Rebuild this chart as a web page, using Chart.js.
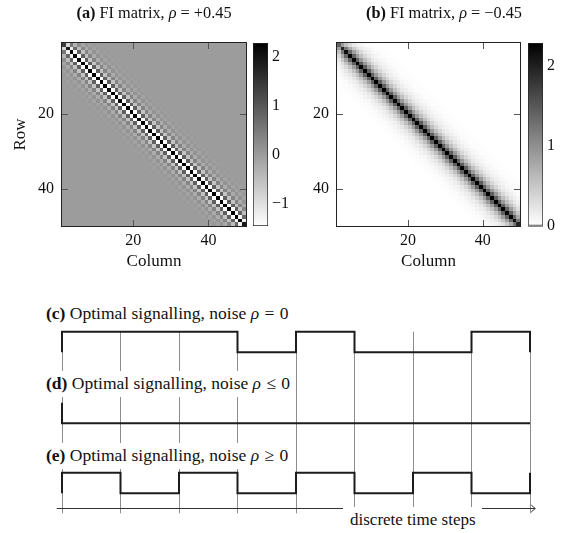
<!DOCTYPE html>
<html>
<head>
<meta charset="utf-8">
<title>FI matrices and optimal signalling</title>
<script src="https://cdn.jsdelivr.net/npm/chart.js@4.4.1/dist/chart.umd.min.js"></script>
<style>
  html, body { margin: 0; padding: 0; background: #fff; }
  body { position: relative; width: 565px; height: 533px; overflow: hidden;
         font-family: "Liberation Serif", "DejaVu Serif", serif; color: #111; }
  canvas { position: absolute; }
  .cap { position: absolute; font-size: 17px; line-height: 20px; white-space: nowrap; }
  .top { font-size: 16.3px; }
  .sub { font-size: 17.5px; }
  .rel { padding: 0 1px; }
  .box { background: #fff; }
</style>
</head>
<body>
<canvas id="fiA" width="250" height="280" style="left:0;top:0"></canvas>
<canvas id="cbA" width="60" height="280" style="left:250px;top:0"></canvas>
<canvas id="fiB" width="245" height="280" style="left:280px;top:0"></canvas>
<canvas id="cbB" width="40" height="280" style="left:525px;top:0"></canvas>
<canvas id="signals" width="565" height="243" style="left:0;top:290px"></canvas>

<div class="cap top" style="left:154px;top:3px;transform:translateX(-50%)"><b>(a)</b> FI matrix, <i>ρ</i> = +0.45</div>
<div class="cap top" style="left:444px;top:3px;transform:translateX(-50%)"><b>(b)</b> FI matrix, <i>ρ</i> = −0.45</div>
<div class="cap sub box" style="left:44px;top:303px;padding:0 3px 0 2px"><b>(c)</b> Optimal signalling, noise <i>ρ</i> <span class="rel">=</span> 0</div>
<div class="cap sub box" style="left:44px;top:371px;padding:2px 3px 4px 2px"><b>(d)</b> Optimal signalling, noise <i>ρ</i> <span class="rel">≤</span> 0</div>
<div class="cap sub box" style="left:44px;top:443px;padding:2px 3px 4px 2px"><b>(e)</b> Optimal signalling, noise <i>ρ</i> <span class="rel">≥</span> 0</div>
<div class="cap box" style="left:343px;top:507px;padding:3px 6px 3px 7px">discrete time steps</div>

<script>
// ---- data ----
const matrixSize = 50;
const matrixTicks = [20, 40];

// FI entries by distance |row - col| from the diagonal
const fiDiagA = [2.29, -1.44, 0.90, -0.57, 0.36, -0.22, 0.14, -0.09, 0.05, -0.03, 0.02, -0.01];
const fiDiagB = [2.29, 1.44, 0.90, 0.57, 0.36, 0.22, 0.14, 0.09, 0.05, 0.03, 0.02, 0.01];
// entries fade out close to the matrix border (by distance to the border)
const edgeFactor = [0.61, 0.85, 0.94, 0.98, 0.99];

const cbRangeA = [-1.45, 2.29];
const cbRangeB = [0, 2.29];
const cbTicksA = [-1, 0, 1, 2];
const cbTicksB = [0, 1, 2];

const timeSteps = [0, 1, 2, 3, 4, 5, 6, 7, 8];
const signalC = [1, 1, 1, 0, 1, 0, 0, 1];
const signalD = [0, 0, 0, 0, 0, 0, 0, 0];
const signalE = [1, 0, 1, 0, 1, 0, 1, 0];
// level before the first step and after the last one
const signalEndsC = [0, 0];
const signalEndsD = [1, 0];
const signalEndsE = [0, 1];

// ---- layout / style ----
const FONT = "'Liberation Serif', 'DejaVu Serif', serif";
const INK = '#111';
const GRID = '#8c8c8c';
const rowOffset = [6.85, 3.4, 0];   // vertical place of (c), (d), (e)
const axisLevel = -0.73;

Chart.defaults.font.family = FONT;
Chart.defaults.color = INK;

function grayFor(v, min, max) {
  const t = Math.min(1, Math.max(0, (v - min) / (max - min)));
  const g = Math.round(255 * (1 - t));
  return `rgb(${g},${g},${g})`;
}

function buildCells(diag) {
  const cells = [];
  for (let r = 1; r < matrixSize; r++) {
    for (let c = 1; c < matrixSize; c++) {
      const lo = Math.min(r, c), hi = Math.max(r, c);
      const base = diag[hi - lo] ?? 0;
      const f = (edgeFactor[lo - 1] ?? 1) * (edgeFactor[matrixSize - hi] ?? 1);
      cells.push({ x: c, y: r, v: base * f });
    }
  }
  return cells;
}

// draws the matrix cells through the chart scales, plus frame and inward ticks
const matrixCells = {
  id: 'matrixCells',
  beforeDatasetsDraw(chart, args, opts) {
    const { ctx, scales: { x, y } } = chart;
    ctx.save();
    chart.data.datasets[0].data.forEach(c => {
      const x0 = Math.round(x.getPixelForValue(c.x));
      const x1 = Math.round(x.getPixelForValue(c.x + 1));
      const y0 = Math.round(y.getPixelForValue(c.y));
      const y1 = Math.round(y.getPixelForValue(c.y + 1));
      ctx.fillStyle = grayFor(c.v, opts.min, opts.max);
      ctx.fillRect(x0, Math.min(y0, y1), x1 - x0, Math.abs(y1 - y0));
    });
    ctx.restore();
  },
  afterDatasetsDraw(chart) {
    const { ctx, chartArea: a, scales: { x, y } } = chart;
    ctx.save();
    ctx.strokeStyle = '#555';
    ctx.lineWidth = 1;
    ctx.beginPath();
    matrixTicks.forEach(v => {
      const px = Math.round(x.getPixelForValue(v)) + 0.5;
      ctx.moveTo(px, a.bottom); ctx.lineTo(px, a.bottom - 6);
      ctx.moveTo(px, a.top); ctx.lineTo(px, a.top + 6);
      const py = Math.round(y.getPixelForValue(v)) + 0.5;
      ctx.moveTo(a.left, py); ctx.lineTo(a.left + 6, py);
      ctx.moveTo(a.right, py); ctx.lineTo(a.right - 6, py);
    });
    ctx.stroke();
    ctx.strokeStyle = '#222';
    ctx.strokeRect(a.left - 0.5, a.top - 0.5, a.right - a.left + 1, a.bottom - a.top + 1);
    ctx.restore();
  }
};

function heatmap(id, diag, range, yTitle, yWidth, padRight) {
  return new Chart(document.getElementById(id), {
    type: 'scatter',
    data: { datasets: [{ data: buildCells(diag), pointRadius: 0, showLine: false }] },
    options: {
      responsive: false, animation: false, events: [],
      layout: { padding: { top: 43, right: padRight, left: 0, bottom: 0 } },
      plugins: { legend: { display: false }, tooltip: { enabled: false },
                 matrixCells: { min: range[0], max: range[1] } },
      scales: {
        x: {
          type: 'linear', min: 1, max: matrixSize,
          afterBuildTicks: s => { s.ticks = matrixTicks.map(v => ({ value: v })); },
          afterFit: s => { s.height = 54; },
          grid: { display: false, drawTicks: false }, border: { display: false },
          ticks: { font: { size: 16 }, color: INK, padding: 5 },
          title: { display: true, text: 'Column', font: { size: 17 }, color: INK, padding: { top: 0, bottom: 8 } }
        },
        y: {
          type: 'linear', reverse: true, min: 1, max: matrixSize,
          afterBuildTicks: s => { s.ticks = matrixTicks.map(v => ({ value: v })); },
          afterFit: s => { s.width = yWidth; },
          grid: { display: false, drawTicks: false }, border: { display: false },
          ticks: { font: { size: 16 }, color: INK, padding: 8 },
          title: { display: !!yTitle, text: yTitle || '', font: { size: 17 }, color: INK, padding: { top: 10, bottom: 0 } }
        }
      }
    },
    plugins: [matrixCells]
  });
}

function colorbar(id, range, ticks, axisWidth) {
  return new Chart(document.getElementById(id), {
    type: 'bar',
    data: {
      labels: [''],
      datasets: [{
        data: [range],
        backgroundColor: c => {
          const ch = c.chart;
          if (!ch.chartArea) return '#888';
          const y = ch.scales.y;
          const g = ch.ctx.createLinearGradient(0, y.getPixelForValue(range[1]), 0, y.getPixelForValue(range[0]));
          g.addColorStop(0, '#000');
          g.addColorStop(1, '#fff');
          return g;
        },
        borderColor: '#222', borderWidth: 1, borderSkipped: false,
        barPercentage: 1, categoryPercentage: 1
      }]
    },
    options: {
      responsive: false, animation: false, events: [],
      layout: { padding: { top: 43, bottom: 54, left: 3, right: 0 } },
      plugins: { legend: { display: false }, tooltip: { enabled: false } },
      scales: {
        x: { display: false },
        y: {
          position: 'right', min: range[0], max: range[1], z: 1,
          afterBuildTicks: s => { s.ticks = ticks.map(v => ({ value: v })); },
          afterFit: s => { s.width = axisWidth; },
          grid: { color: GRID, drawTicks: false }, border: { display: false },
          ticks: { font: { size: 16 }, color: INK, padding: 4,
                   callback: v => (v < 0 ? '\u2212' + Math.abs(v) : String(v)) }
        }
      }
    }
  });
}

heatmap('fiA', fiDiagA, cbRangeA, 'Row', 62, 4);
colorbar('cbA', cbRangeA, cbTicksA, 42);
heatmap('fiB', fiDiagB, cbRangeB, '', 57, 5);
colorbar('cbB', cbRangeB, cbTicksB, 22);

// ---- signalling panels (c)-(e) ----
function stepDataset(signal, ends, offset) {
  const last = signal.length;
  const pts = [{ x: timeSteps[0], y: offset + ends[0] }];
  signal.forEach((v, i) => pts.push({ x: timeSteps[i], y: offset + v }));
  pts.push({ x: timeSteps[last], y: offset + signal[last - 1] });
  pts.push({ x: timeSteps[last], y: offset + ends[1] });
  return {
    data: pts, stepped: true, borderColor: '#1c1c1c', borderWidth: 2,
    pointRadius: 0, fill: false, clip: false, borderCapStyle: 'butt', borderJoinStyle: 'miter'
  };
}

const timeAxis = {
  id: 'timeAxis',
  afterDatasetsDraw(chart) {
    const { ctx, scales: { x, y } } = chart;
    const py = Math.round(y.getPixelForValue(axisLevel)) + 0.5;
    const x0 = x.getPixelForValue(timeSteps[0] - 0.09);
    const x1 = x.getPixelForValue(timeSteps[timeSteps.length - 1] + 0.09);
    ctx.save();
    ctx.strokeStyle = '#333';
    ctx.lineWidth = 1;
    ctx.beginPath();
    ctx.moveTo(x0, py); ctx.lineTo(x1, py);
    ctx.moveTo(x1 - 4, py - 3.5); ctx.lineTo(x1, py); ctx.lineTo(x1 - 4, py + 3.5);
    ctx.stroke();
    ctx.restore();
  }
};

new Chart(document.getElementById('signals'), {
  type: 'line',
  data: {
    datasets: [
      stepDataset(signalC, signalEndsC, rowOffset[0]),
      stepDataset(signalD, signalEndsD, rowOffset[1]),
      stepDataset(signalE, signalEndsE, rowOffset[2])
    ]
  },
  options: {
    responsive: false, animation: false, events: [],
    layout: { padding: { top: 41.7, left: 62, right: 35, bottom: 0 } },
    plugins: { legend: { display: false }, tooltip: { enabled: false } },
    scales: {
      x: {
        type: 'linear', min: timeSteps[0], max: timeSteps[timeSteps.length - 1],
        afterBuildTicks: s => { s.ticks = timeSteps.map(v => ({ value: v })); },
        afterFit: s => { s.height = 24.7; },
        ticks: { display: false },
        grid: { color: GRID, lineWidth: 1, drawTicks: true, tickLength: 5 },
        border: { display: false }
      },
      y: { display: false, min: axisLevel, max: rowOffset[0] + 1 }
    }
  },
  plugins: [timeAxis]
});
</script>
</body>
</html>
